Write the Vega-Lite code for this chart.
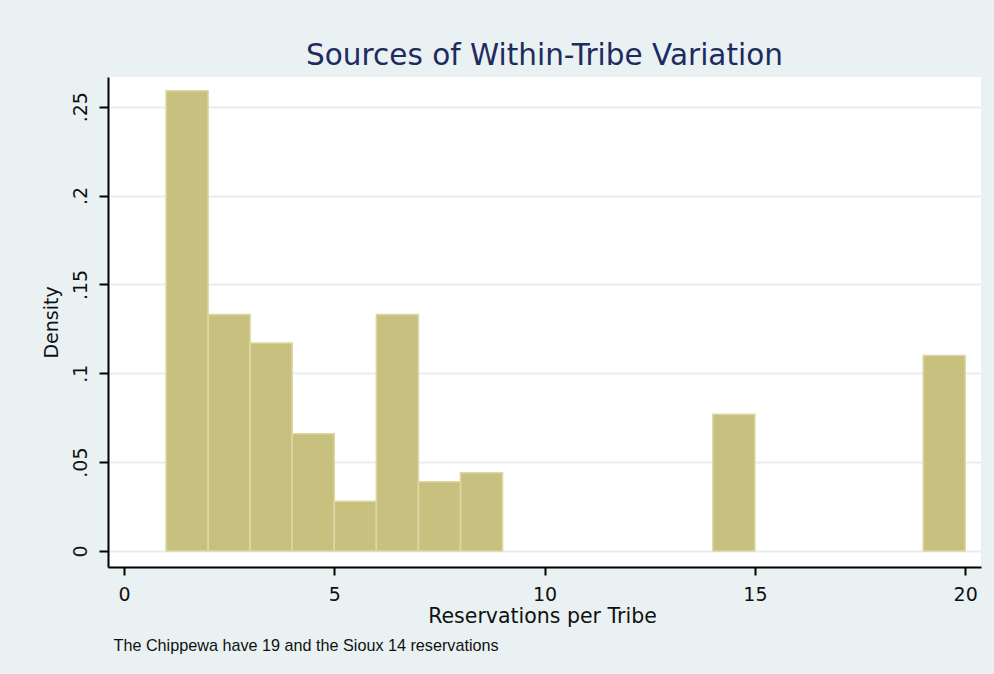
{
  "$schema": "https://vega.github.io/schema/vega-lite/v6.json",
  "width": 873,
  "height": 490,
  "autosize": {"type": "none"},
  "padding": {"left": 108, "top": 77, "right": 13, "bottom": 107},
  "background": "#e9f1f3",
  "title": {
    "text": "Sources of Within-Tribe Variation",
    "font": "DejaVu Sans",
    "fontSize": 29.5,
    "fontWeight": "normal",
    "color": "#1e2b5e",
    "anchor": "middle",
    "frame": "group",
    "baseline": "alphabetic",
    "offset": -17
  },
  "data": {
    "values": [
      {"start": 1, "end": 2, "density": 0.259},
      {"start": 2, "end": 3, "density": 0.133},
      {"start": 3, "end": 4, "density": 0.117},
      {"start": 4, "end": 5, "density": 0.066},
      {"start": 5, "end": 6, "density": 0.028},
      {"start": 6, "end": 7, "density": 0.133},
      {"start": 7, "end": 8, "density": 0.039},
      {"start": 8, "end": 9, "density": 0.044},
      {"start": 14, "end": 15, "density": 0.077},
      {"start": 19, "end": 20, "density": 0.110}
    ]
  },
  "layer": [
    {
      "mark": {"type": "bar", "fill": "#c8c07e", "strokeWidth": 0},
      "encoding": {
        "x": {
          "field": "start",
          "type": "quantitative",
          "scale": {"domain": [-0.38, 20.376], "nice": false, "zero": false},
          "axis": {
            "orient": "bottom",
            "values": [0, 5, 10, 15, 20],
            "grid": false,
            "domainColor": "#000000",
            "domainWidth": 2,
            "tickColor": "#000000",
            "tickWidth": 2,
            "tickSize": 8,
            "labelFont": "DejaVu Sans",
            "labelFontSize": 19,
            "labelColor": "#111111",
            "labelPadding": 10,
            "labelFlush": false,
            "labelOverlap": false,
            "title": "Reservations per Tribe",
            "titleFont": "DejaVu Sans",
            "titleFontSize": 20.5,
            "titleFontWeight": "normal",
            "titleColor": "#111111",
            "titleAlign": "center",
            "titleBaseline": "alphabetic",
            "titleX": 434,
            "titleY": 55
          }
        },
        "x2": {"field": "end"},
        "y": {
          "field": "density",
          "type": "quantitative",
          "scale": {"domain": [-0.009, 0.2667], "nice": false, "zero": false},
          "axis": {
            "values": [0, 0.05, 0.1, 0.15, 0.2, 0.25],
            "labelExpr": "datum.value == 0 ? '0' : slice(format(datum.value, '.2~f'), 1)",
            "grid": true,
            "gridColor": "#e6eef2",
            "gridWidth": 2,
            "domainColor": "#000000",
            "domainWidth": 2,
            "tickColor": "#000000",
            "tickWidth": 2,
            "tickSize": 9,
            "labelFont": "DejaVu Sans",
            "labelFontSize": 19,
            "labelColor": "#111111",
            "labelAngle": 270,
            "labelAlign": "center",
            "labelBaseline": "alphabetic",
            "labelPadding": 13,
            "labelFlush": false,
            "labelOverlap": false,
            "title": "Density",
            "titleFont": "DejaVu Sans",
            "titleFontSize": 19,
            "titleFontWeight": "normal",
            "titleColor": "#111111",
            "titleAngle": 270,
            "titleAlign": "center",
            "titleBaseline": "alphabetic",
            "titleX": -51,
            "titleY": 245
          }
        },
        "y2": {"datum": 0}
      }
    },
    {
      "mark": {"type": "bar", "filled": false, "stroke": "#ddd7a3", "strokeWidth": 1.5},
      "encoding": {
        "x": {
          "field": "start",
          "type": "quantitative",
          "axis": {
            "orient": "bottom",
            "domain": false,
            "ticks": false,
            "labels": false,
            "grid": false,
            "title": "The Chippewa have 19 and the Sioux 14 reservations",
            "titleFont": "Liberation Sans",
            "titleFontSize": 16.2,
            "titleFontWeight": "normal",
            "titleColor": "#111111",
            "titleAlign": "left",
            "titleAnchor": "start",
            "titleBaseline": "alphabetic",
            "titleX": 5,
            "titleY": 83
          }
        },
        "x2": {"field": "end"},
        "y": {"field": "density", "type": "quantitative"},
        "y2": {"datum": 0}
      }
    }
  ],
  "resolve": {"axis": {"x": "independent"}},
  "config": {"view": {"fill": "#ffffff", "stroke": null}}
}
